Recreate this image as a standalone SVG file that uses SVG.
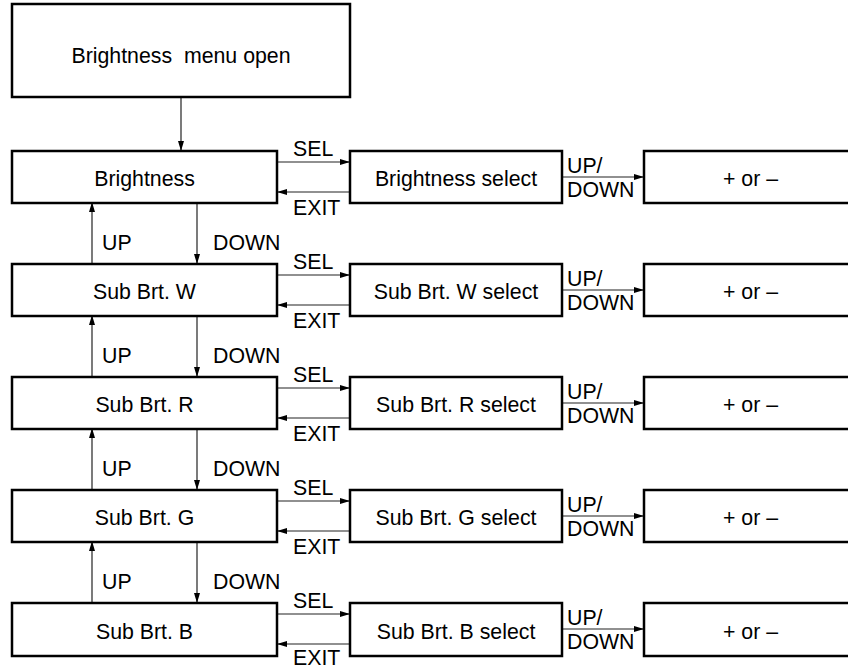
<svg xmlns="http://www.w3.org/2000/svg" width="848" height="670" viewBox="0 0 848 670">
<style>
.box{fill:#fff;stroke:#000;stroke-width:2.5}
.t{font-family:"Liberation Sans",Arial,sans-serif;font-size:21.3px;fill:#000}
.c{text-anchor:middle}
.ln{stroke:#222;stroke-width:1.2;fill:none}
</style>
<defs>
<marker id="ah" markerWidth="10" markerHeight="8" refX="9" refY="4" orient="auto" markerUnits="userSpaceOnUse">
<path d="M0,1 L10,4 L0,7 Z" fill="#000"/>
</marker>
</defs>
<rect width="848" height="670" fill="#fff"/>
<g id="connectors">
<line class="ln" x1="181" y1="97" x2="181" y2="150" marker-end="url(#ah)"/>
<line class="ln" x1="277" y1="162" x2="349" y2="162" marker-end="url(#ah)"/>
<line class="ln" x1="350" y1="192" x2="278" y2="192" marker-end="url(#ah)"/>
<line class="ln" x1="562" y1="177" x2="643" y2="177" marker-end="url(#ah)"/>
<line class="ln" x1="277" y1="275" x2="349" y2="275" marker-end="url(#ah)"/>
<line class="ln" x1="350" y1="305" x2="278" y2="305" marker-end="url(#ah)"/>
<line class="ln" x1="562" y1="290" x2="643" y2="290" marker-end="url(#ah)"/>
<line class="ln" x1="277" y1="388" x2="349" y2="388" marker-end="url(#ah)"/>
<line class="ln" x1="350" y1="418" x2="278" y2="418" marker-end="url(#ah)"/>
<line class="ln" x1="562" y1="403" x2="643" y2="403" marker-end="url(#ah)"/>
<line class="ln" x1="277" y1="501" x2="349" y2="501" marker-end="url(#ah)"/>
<line class="ln" x1="350" y1="531" x2="278" y2="531" marker-end="url(#ah)"/>
<line class="ln" x1="562" y1="516" x2="643" y2="516" marker-end="url(#ah)"/>
<line class="ln" x1="277" y1="614" x2="349" y2="614" marker-end="url(#ah)"/>
<line class="ln" x1="350" y1="644" x2="278" y2="644" marker-end="url(#ah)"/>
<line class="ln" x1="562" y1="629" x2="643" y2="629" marker-end="url(#ah)"/>
<line class="ln" x1="92" y1="264" x2="92" y2="203" marker-end="url(#ah)"/>
<line class="ln" x1="197" y1="202" x2="197" y2="263" marker-end="url(#ah)"/>
<line class="ln" x1="92" y1="377" x2="92" y2="316" marker-end="url(#ah)"/>
<line class="ln" x1="197" y1="315" x2="197" y2="376" marker-end="url(#ah)"/>
<line class="ln" x1="92" y1="490" x2="92" y2="429" marker-end="url(#ah)"/>
<line class="ln" x1="197" y1="428" x2="197" y2="489" marker-end="url(#ah)"/>
<line class="ln" x1="92" y1="603" x2="92" y2="542" marker-end="url(#ah)"/>
<line class="ln" x1="197" y1="541" x2="197" y2="602" marker-end="url(#ah)"/>
</g>
<g id="labels">
<text class="t" x="293" y="156">SEL</text><text class="t" x="293" y="215">EXIT</text>
<text class="t" x="567" y="173">UP/</text><text class="t" x="567" y="197">DOWN</text>
<text class="t" x="293" y="269">SEL</text><text class="t" x="293" y="328">EXIT</text>
<text class="t" x="567" y="286">UP/</text><text class="t" x="567" y="310">DOWN</text>
<text class="t" x="293" y="382">SEL</text><text class="t" x="293" y="441">EXIT</text>
<text class="t" x="567" y="399">UP/</text><text class="t" x="567" y="423">DOWN</text>
<text class="t" x="293" y="495">SEL</text><text class="t" x="293" y="554">EXIT</text>
<text class="t" x="567" y="512">UP/</text><text class="t" x="567" y="536">DOWN</text>
<text class="t" x="293" y="608">SEL</text><text class="t" x="293" y="665">EXIT</text>
<text class="t" x="567" y="625">UP/</text><text class="t" x="567" y="649">DOWN</text>
<text class="t" x="102" y="250">UP</text><text class="t" x="213" y="250">DOWN</text>
<text class="t" x="102" y="363">UP</text><text class="t" x="213" y="363">DOWN</text>
<text class="t" x="102" y="476">UP</text><text class="t" x="213" y="476">DOWN</text>
<text class="t" x="102" y="589">UP</text><text class="t" x="213" y="589">DOWN</text>
</g>
<g id="menu-open"><rect class="box" x="12" y="4" width="338" height="93"/><text class="t c" x="181" y="63" xml:space="preserve">Brightness  menu open</text></g>
<g id="brightness"><rect class="box" x="12" y="151" width="265" height="52"/><text class="t c" x="144.5" y="186">Brightness</text></g>
<g id="brightness-select"><rect class="box" x="350" y="151" width="212" height="52"/><text class="t c" x="456" y="186">Brightness select</text></g>
<g id="brightness-pm"><rect class="box" x="644" y="151" width="213" height="52"/><text class="t c" x="750.5" y="186">+ or –</text></g>
<g id="subw"><rect class="box" x="12" y="264" width="265" height="52"/><text class="t c" x="144.5" y="299">Sub Brt. W</text></g>
<g id="subw-select"><rect class="box" x="350" y="264" width="212" height="52"/><text class="t c" x="456" y="299">Sub Brt. W select</text></g>
<g id="subw-pm"><rect class="box" x="644" y="264" width="213" height="52"/><text class="t c" x="750.5" y="299">+ or –</text></g>
<g id="subr"><rect class="box" x="12" y="377" width="265" height="52"/><text class="t c" x="144.5" y="412">Sub Brt. R</text></g>
<g id="subr-select"><rect class="box" x="350" y="377" width="212" height="52"/><text class="t c" x="456" y="412">Sub Brt. R select</text></g>
<g id="subr-pm"><rect class="box" x="644" y="377" width="213" height="52"/><text class="t c" x="750.5" y="412">+ or –</text></g>
<g id="subg"><rect class="box" x="12" y="490" width="265" height="52"/><text class="t c" x="144.5" y="525">Sub Brt. G</text></g>
<g id="subg-select"><rect class="box" x="350" y="490" width="212" height="52"/><text class="t c" x="456" y="525">Sub Brt. G select</text></g>
<g id="subg-pm"><rect class="box" x="644" y="490" width="213" height="52"/><text class="t c" x="750.5" y="525">+ or –</text></g>
<g id="subb"><rect class="box" x="12" y="603" width="265" height="53"/><text class="t c" x="144.5" y="639">Sub Brt. B</text></g>
<g id="subb-select"><rect class="box" x="350" y="603" width="212" height="53"/><text class="t c" x="456" y="639">Sub Brt. B select</text></g>
<g id="subb-pm"><rect class="box" x="644" y="603" width="213" height="53"/><text class="t c" x="750.5" y="639">+ or –</text></g>
</svg>
